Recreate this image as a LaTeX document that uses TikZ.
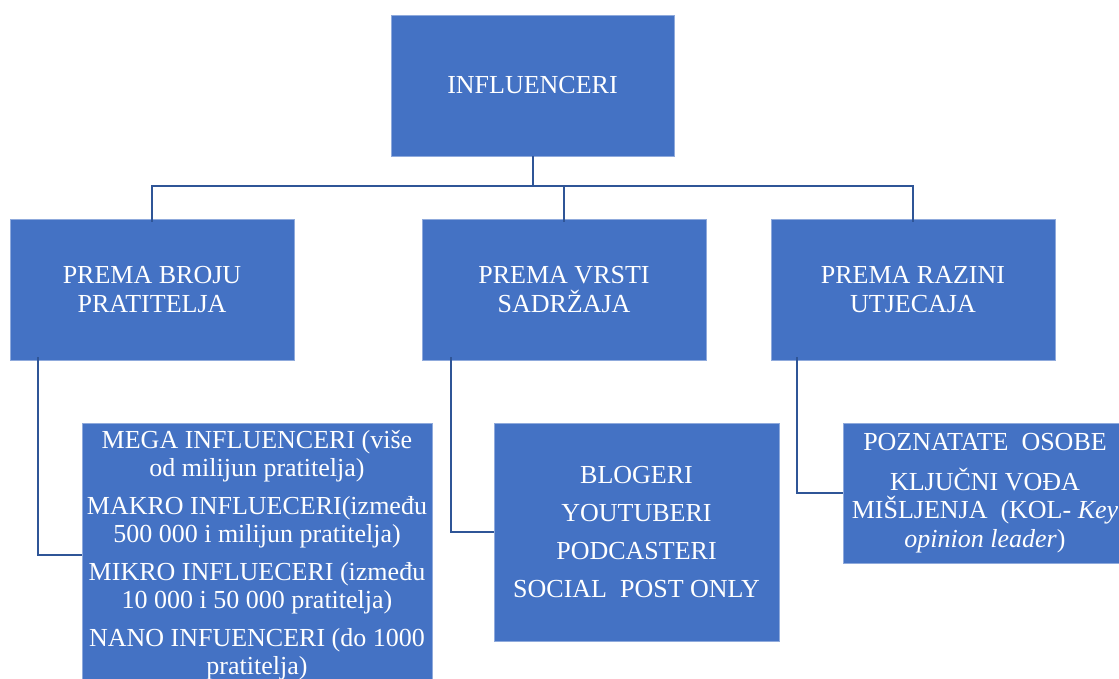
\documentclass[tikz,border=0pt]{standalone}
\usepackage{fontspec}
\setmainfont{Liberation Serif}
\definecolor{boxblue}{RGB}{68,114,196}
\definecolor{edgeblue}{RGB}{143,170,220}
\definecolor{linkblue}{RGB}{47,85,151}
\begin{document}
\begin{tikzpicture}[x=1pt,y=-1pt,
  box/.style={rectangle,fill=boxblue,draw=edgeblue,line width=0.8pt,inner sep=0pt,
    text=white,align=center,font=\fontsize{26}{28}\selectfont},
  link/.style={draw=linkblue,line width=2pt}]
\useasboundingbox (0,0) rectangle (1119,679);
\clip (0,0) rectangle (1119,679);
\fill[white] (0,0) rectangle (1119,679);
\node[box,minimum width=283pt,minimum height=141pt] (top) at (532.5,85.5) {INFLUENCERI};
\node[box,minimum width=284pt,minimum height=141pt] (b1) at (152,289.5) {PREMA BROJU\\[1pt]PRATITELJA};
\node[box,minimum width=284pt,minimum height=141pt] (b2) at (564,289.5) {PREMA VRSTI\\[1pt]SADRŽAJA};
\node[box,minimum width=284pt,minimum height=141pt] (b3) at (913,289.5) {PREMA RAZINI\\[1pt]UTJECAJA};
\node[box,minimum width=350pt,minimum height=264pt] (c1) at (257,555) {MEGA INFLUENCERI (više\\od milijun pratitelja)\\[10pt]MAKRO INFLUECERI(između\\500 000 i milijun pratitelja)\\[10pt]MIKRO INFLUECERI (između\\10 000 i 50 000 pratitelja)\\[10pt]NANO INFUENCERI (do 1000\\pratitelja)};
\node[box,minimum width=285pt,minimum height=218pt] (c2) at (636.5,532) {BLOGERI\\[10pt]YOUTUBERI\\[10pt]PODCASTERI\\[10pt]SOCIAL\ \ POST\ ONLY};
\node[box,minimum width=284pt,minimum height=140pt] (c3) at (985,493) {POZNATATE\ \ OSOBE\\[12pt]KLJUČNI VOĐA\\MIŠLJENJA\ \ (KOL- \textit{Key}\\[1pt]\textit{opinion leader})};
\coordinate (j) at (532.5,186);
\draw[link] (top.south) -- (j);
\draw[link] ([yshift=-3pt]b1.north) |- (j) -| ([yshift=-3pt]b3.north);
\draw[link] ([yshift=-3pt]b2.north) -- (b2.north |- j);
\draw[link] ([xshift=28pt,yshift=3pt]b1.south west) |- (c1.west);
\draw[link] ([xshift=29pt,yshift=3pt]b2.south west) |- (c2.west);
\draw[link] ([xshift=26pt,yshift=3pt]b3.south west) |- (c3.west);
\end{tikzpicture}
\end{document}
